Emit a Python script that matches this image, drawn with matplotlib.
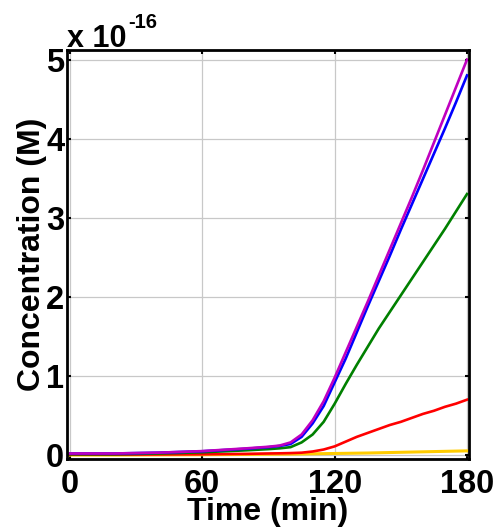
import matplotlib.pyplot as plt
import numpy as np

# concentrations in units of 1e-16 M
time_min = [0, 20, 40, 60, 80, 90, 95, 100, 105, 110, 115, 120, 125, 130, 135, 140,
            145, 150, 155, 160, 165, 170, 175, 180]
conc_purple = [0.02, 0.02, 0.03, 0.05, 0.085, 0.105, 0.12, 0.16, 0.26, 0.44, 0.68, 0.98,
               1.30, 1.62, 1.94, 2.27, 2.60, 2.93, 3.26, 3.60, 3.95, 4.30, 4.65, 5.00]
conc_blue = [0.02, 0.02, 0.03, 0.048, 0.08, 0.10, 0.115, 0.14, 0.23, 0.40, 0.62, 0.92,
             1.22, 1.55, 1.88, 2.20, 2.52, 2.85, 3.17, 3.49, 3.81, 4.13, 4.46, 4.80]
conc_green = [0.01, 0.01, 0.02, 0.035, 0.06, 0.075, 0.085, 0.10, 0.16, 0.26, 0.42, 0.65,
              0.90, 1.14, 1.37, 1.60, 1.81, 2.02, 2.23, 2.44, 2.65, 2.86, 3.08, 3.30]
conc_red = [0.005, 0.005, 0.008, 0.01, 0.015, 0.02, 0.022, 0.025, 0.03, 0.045, 0.07, 0.11,
            0.17, 0.23, 0.28, 0.33, 0.38, 0.42, 0.47, 0.52, 0.56, 0.61, 0.65, 0.70]
conc_yellow = [0.0, 0.0, 0.002, 0.004, 0.008, 0.01, 0.011, 0.012, 0.014, 0.016, 0.018, 0.02,
               0.022, 0.024, 0.026, 0.029, 0.032, 0.035, 0.038, 0.041, 0.044, 0.047, 0.05, 0.053]

x_ticks = [0, 60, 120, 180]
y_ticks = [0, 1, 2, 3, 4, 5]

font = 'Liberation Sans'

fig = plt.figure(figsize=(4.96, 5.27), dpi=100)
ax = fig.add_axes([0.135, 0.129, 0.811, 0.776])

t = np.array(time_min)
ax.plot(t, conc_yellow, color='#ffcc00', lw=2.2)
ax.plot(t, conc_red, color='#ff0000', lw=1.9)
ax.plot(t, conc_green, color='#008000', lw=1.9)
ax.plot(t, conc_blue, color='#0000ff', lw=1.9)
ax.plot(t, conc_purple, color='#bf00bf', lw=1.9)

ax.set_xlim(-1.4, 181)
ax.set_ylim(-0.05, 5.12)
ax.set_xticks(x_ticks)
ax.set_yticks(y_ticks)
ax.grid(True, color='#c8c8c8', lw=0.9)
ax.set_axisbelow(True)

for s in ax.spines.values():
    s.set_linewidth(2.0)
ax.tick_params(direction='in', length=3, width=1.5, top=True, right=True,
               labelsize=23.5)
ax.tick_params(axis='x', pad=7)
ax.tick_params(axis='y', pad=2)
for lbl in ax.get_xticklabels() + ax.get_yticklabels():
    lbl.set_fontfamily(font)
    lbl.set_fontweight('bold')

ax.set_xlabel('Time (min)', fontsize=23, fontweight='bold', family=font, labelpad=-2)
ax.set_ylabel('Concentration (M)', fontsize=23, fontweight='bold', family=font, labelpad=-1)

fig.text(0.135, 0.911, 'x 10', fontsize=22, fontweight='bold', family=font,
         ha='left', va='baseline')
fig.text(0.259, 0.947, '-16', fontsize=14.5, fontweight='bold', family=font,
         ha='left', va='baseline')

fig.savefig('out.png', dpi=100)
